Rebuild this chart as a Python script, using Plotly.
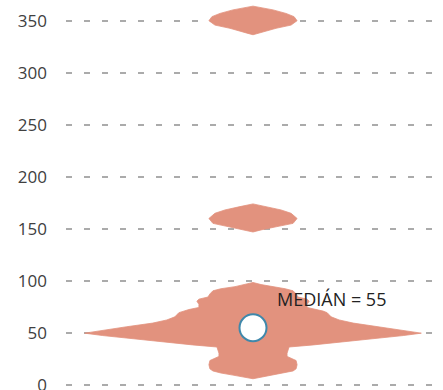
import plotly.graph_objects as go

# ---- data ----
# violin profile: y levels and relative density (half width, 1 = widest)
main_y = [6, 7.5, 9.5, 11.5, 13.5, 15.5, 19.5, 23.5, 25.5, 27.5, 30.5, 33.5, 36.5, 38.5, 40,
          42.5, 45, 47.5, 49.8, 52.5, 56, 59.5, 62.5, 65.5, 67.5, 69.5, 71, 72.5, 74.5, 77.5,
          80.5, 82.5, 84.5, 87.5, 90.5, 92.5, 94.5, 96.5, 98.5]
main_d = [0, 8, 20, 32, 40, 43, 44, 43, 38, 34, 34, 35, 36, 60, 76, 100, 126, 150, 168,
          150, 126, 100, 86, 78, 76, 74, 70, 64, 54, 54, 56, 54, 45, 43, 40, 32, 18, 8, 0]
mid_y = [147, 149, 152, 155.3, 160, 165, 168.2, 171.4, 174]
mid_d = [0, 8, 23, 40, 44, 38, 28, 13, 0]
top_y = [336.5, 337.8, 342.7, 345.8, 350, 353.9, 357, 360.4, 364]
top_d = [0, 5, 23, 38, 44, 41, 33, 20, 0]
max_density = 168.0

median_value = 55
y_ticks = [0, 50, 100, 150, 200, 250, 300, 350]

MAX_HALF = 0.9  # widest half-width in x-axis units

def outline(ys, ds):
    xs_r = [d / max_density * MAX_HALF for d in ds]
    xs_l = [-x for x in xs_r]
    return xs_r + xs_l[::-1] + [xs_r[0]], ys + ys[::-1] + [ys[0]]

xs, ys = [], []
for yy, dd in [(main_y, main_d), (mid_y, mid_d), (top_y, top_d)]:
    ox, oy = outline(yy, dd)
    xs += ox + [None]
    ys += oy + [None]

fill_col = "rgb(226,146,126)"

fig = go.Figure()
fig.add_trace(go.Scatter(
    x=xs, y=ys, mode="lines", fill="toself",
    fillcolor=fill_col, line=dict(color=fill_col, width=0.8),
    hoverinfo="skip", showlegend=False,
))
fig.add_trace(go.Scatter(
    x=[0], y=[median_value], mode="markers",
    marker=dict(size=27, color="white", line=dict(color="#3F88AB", width=2)),
    showlegend=False,
))
fig.add_annotation(
    x=0.115, y=83, xref="x", yref="y", text=f"MEDIÁN = {median_value}",
    showarrow=False, xanchor="left", yanchor="middle",
    font=dict(family="Open Sans", size=18, color="#222222"),
)

fig.update_layout(
    width=443, height=390,
    margin=dict(l=66, r=3, t=0, b=0, autoexpand=False),
    paper_bgcolor="white", plot_bgcolor="white",
    xaxis=dict(range=[-1, 1], visible=False, showgrid=False, zeroline=False,
               fixedrange=True, automargin=False),
    yaxis=dict(
        range=[-4.8, 369.9], tickvals=y_ticks, ticktext=[str(v) for v in y_ticks],
        showgrid=True, gridcolor="#ABABAB", gridwidth=2, griddash="6px,12px",
        zeroline=False, showline=False, ticks="", ticklabelstandoff=18,
        ticklabeloverflow="allow", automargin=False,
        tickfont=dict(family="Open Sans", size=17, color="#404040"),
    ),
    showlegend=False,
)

fig.write_html(
    "out.html",
    config={"displayModeBar": False},
    post_script="document.body.style.margin='0';document.body.style.overflow='hidden';",
)
